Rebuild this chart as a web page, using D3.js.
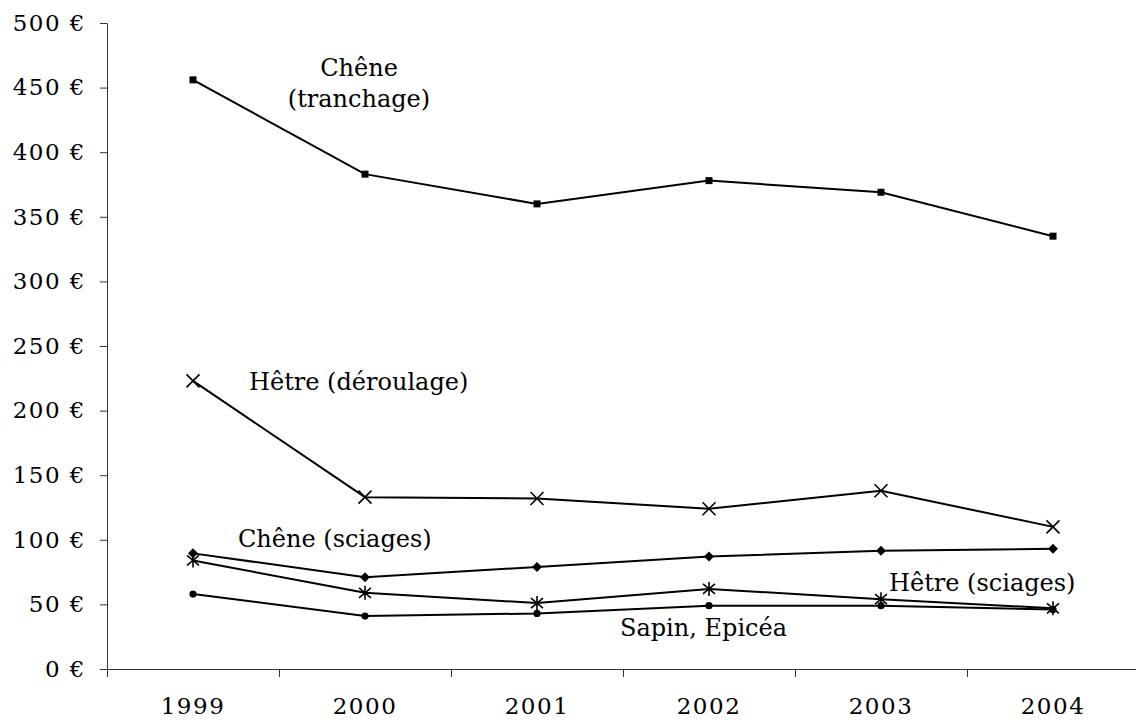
<!DOCTYPE html>
<html>
<head>
<meta charset="utf-8">
<script src="https://cdn.jsdelivr.net/npm/d3@7"></script>
<style>
  body { margin: 0; background: #fff; }
  text { font-family: "DejaVu Serif", "Liberation Serif", serif; fill: #000; }
</style>
</head>
<body>
<div id="chart"></div>
<script>
var years = ["1999", "2000", "2001", "2002", "2003", "2004"];
var yTicks = [0, 50, 100, 150, 200, 250, 300, 350, 400, 450, 500];

var cheneTranchage = [456, 383, 360, 378, 369, 335];
var hetreDeroulage = [223, 133, 132, 124, 138, 110];
var cheneSciages   = [89.5, 71, 79, 87, 91.5, 93];
var hetreSciages   = [84, 59, 51, 62, 54, 47];
var sapinEpicea    = [58, 41, 43, 49, 49, 46];

var width = 1136,
    height = 720;

var svg = d3.select("#chart").append("svg")
    .attr("width", width)
    .attr("height", height);

var x = d3.scaleBand().domain(years).range([107, 107 + 6 * 172]).padding(0),
    y = d3.scaleLinear().domain([0, 500]).range([669, 23]);

// y axis
var yAxis = svg.append("g")
    .attr("transform", "translate(107,0)")
    .call(d3.axisLeft(y).tickValues(yTicks).tickSize(7).tickSizeOuter(0)
      .tickFormat(function(d) { return d + " €"; }));
yAxis.select(".domain").attr("stroke", "#333");
yAxis.selectAll(".tick line").attr("stroke", "#333");
yAxis.selectAll(".tick text")
    .attr("x", -21)
    .style("font-size", "23px")
    .style("letter-spacing", "1.5px")
    .style("font-family", "'DejaVu Serif', serif");

// x axis (labels at centres, ticks on category boundaries)
var xAxis = svg.append("g")
    .attr("transform", "translate(0," + y(0) + ")")
    .call(d3.axisBottom(x).tickSize(0).tickSizeOuter(0));
xAxis.select(".domain").attr("stroke", "#333").attr("d", "M107,0.5H" + width);
xAxis.selectAll(".tick text")
    .attr("y", 45)
    .attr("dy", 0)
    .style("font-size", "23px")
    .style("letter-spacing", "1.5px")
    .style("font-family", "'DejaVu Serif', serif");
xAxis.selectAll(".bound")
    .data(years)
    .enter().append("line")
      .attr("class", "bound")
      .attr("x1", function(d) { return x(d) + 0.5; })
      .attr("x2", function(d) { return x(d) + 0.5; })
      .attr("y1", 0)
      .attr("y2", 8)
      .attr("stroke", "#333");

var line = d3.line()
    .x(function(d, i) { return x(years[i]) + x.bandwidth() / 2; })
    .y(function(d) { return y(d); });

var series = [
  { values: cheneTranchage, marker: "square" },
  { values: hetreDeroulage, marker: "x" },
  { values: cheneSciages, marker: "diamond" },
  { values: hetreSciages, marker: "star" },
  { values: sapinEpicea, marker: "circle" }
];

series.forEach(function(s) {
  svg.append("path")
      .datum(s.values)
      .attr("fill", "none")
      .attr("stroke", "#000")
      .attr("stroke-width", 2)
      .attr("d", line);

  var m = svg.selectAll(null)
    .data(s.values)
    .enter().append("g")
      .attr("transform", function(d, i) {
        return "translate(" + (x(years[i]) + x.bandwidth() / 2) + "," + y(d) + ")";
      });

  if (s.marker == "square") {
    m.append("rect").attr("x", -3.5).attr("y", -3.5).attr("width", 7).attr("height", 7).attr("fill", "#000");
  } else if (s.marker == "diamond") {
    m.append("path").attr("d", "M0,-5L5,0L0,5L-5,0Z").attr("fill", "#000");
  } else if (s.marker == "circle") {
    m.append("circle").attr("r", 3.6).attr("fill", "#000");
  } else if (s.marker == "x") {
    m.append("path").attr("d", "M-6.5,-6.5L6.5,6.5M-6.5,6.5L6.5,-6.5")
      .attr("stroke", "#000").attr("stroke-width", 1.6);
  } else if (s.marker == "star") {
    m.append("path").attr("d", "M-6,-5L6,5M-6,5L6,-5M0,-7L0,7")
      .attr("stroke", "#000").attr("stroke-width", 1.6);
  }
});

// series labels
function label(txt, xx, yy, anchor) {
  svg.append("text")
      .attr("x", xx)
      .attr("y", yy)
      .attr("text-anchor", anchor || "start")
      .style("font-size", "24px")
      .text(txt);
}
label("Chêne", 359, 76, "middle");
label("(tranchage)", 359, 107, "middle");
label("Hêtre (déroulage)", 249, 390);
label("Chêne (sciages)", 238, 547);
label("Hêtre (sciages)", 889, 591);
label("Sapin, Epicéa", 620, 636);
</script>
</body>
</html>
